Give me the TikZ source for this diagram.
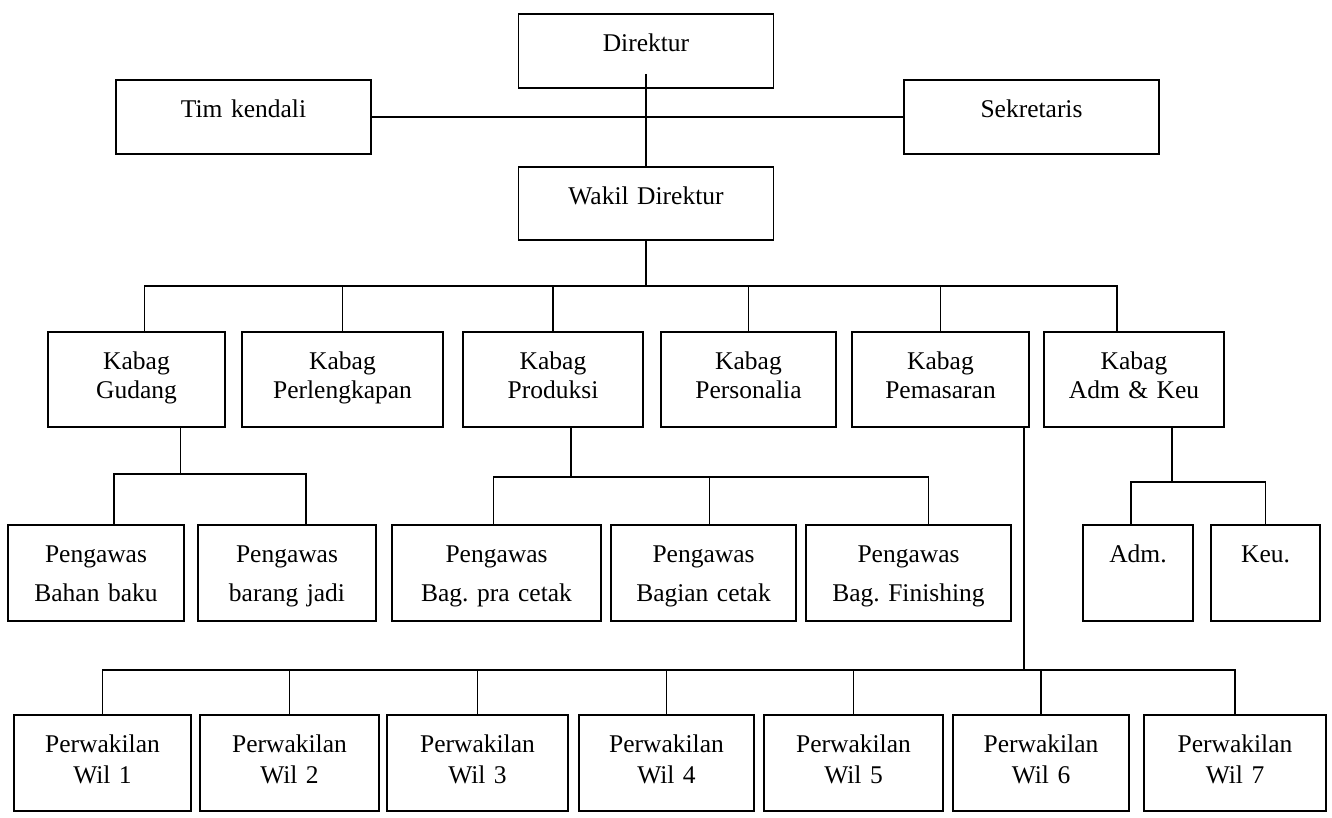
\documentclass[tikz,border=0pt]{standalone}
\usepackage{fontspec}
\setmainfont{Liberation Serif}
\usetikzlibrary{positioning}
\frenchspacing

\tikzset{
    kotak/.style={draw, line width=1.8pt, inner sep=0pt, align=center,
        anchor=north, text height=38pt},
    atas/.style={kotak, text depth=36pt, text width=255pt,
        font=\fontsize{25.5}{30}\selectfont},
    kabag/.style={kotak, text depth=57pt, font=\fontsize{25.5}{29}\selectfont},
    pengawas/.style={kotak, text depth=58pt, font=\fontsize{25.5}{39}\selectfont},
    wilayah/.style={kotak, text depth=58pt, font=\fontsize{25.5}{31}\selectfont},
    garis/.style={line width=1.5pt}
}

\begin{document}
\begin{tikzpicture}[x=1pt, y=-1pt]
\useasboundingbox (0,0) rectangle (1332,817);

% Pimpinan
\node[atas] (dir) at (646,13) {Direktur};
\node[atas] (tim) at (243.5,79) {Tim kendali};
\node[atas] (sek) at (1031.5,79) {Sekretaris};
\node[atas, text depth=35pt] (wakil) at (646,166) {Wakil Direktur};

\draw[garis] (tim.east) -- (sek.west);
\draw[garis] ([yshift=15pt]dir.south) -- (wakil.north);

% Kepala bagian
\node[kabag, text width=177pt] (gudang) at (136.5,331) {Kabag\\Gudang};
\node[kabag, text width=201pt] (perlengkapan) at (342.5,331) {Kabag\\Perlengkapan};
\node[kabag, text width=180pt] (produksi) at (553,331) {Kabag\\Produksi};
\node[kabag, text width=175pt] (personalia) at (748.5,331) {Kabag\\Personalia};
\node[kabag, text width=177pt] (pemasaran) at (940.5,331) {Kabag\\Pemasaran};
\node[kabag, text width=180pt] (admkeu) at (1134,331) {Kabag\\Adm \& Keu};

\coordinate (busA) at (0,286);
\draw[garis] (wakil.south) -- (wakil.south |- busA);
\draw[garis] ([xshift=8pt]gudang.north) |- ([xshift=-17pt]admkeu.north |- busA)
    -- ([xshift=-17pt]admkeu.north);
\foreach \n in {perlengkapan,produksi,personalia,pemasaran}
    \draw[garis] (\n.north) -- (\n.north |- busA);

% Pengawas
\node[pengawas, text width=176pt] (bahan) at (96,524) {Pengawas\\Bahan baku};
\node[pengawas, text width=178pt] (jadi) at (287,524) {Pengawas\\barang jadi};
\node[pengawas, text width=209pt] (pracetak) at (496.5,524) {Pengawas\\Bag. pra cetak};
\node[pengawas, text width=185pt] (cetak) at (703.5,524) {Pengawas\\Bagian cetak};
\node[pengawas, text width=205pt] (finishing) at (908.5,524) {Pengawas\\Bag. Finishing};
\node[pengawas, text width=110pt] (adm) at (1138,524) {Adm.};
\node[pengawas, text width=109pt] (keu) at (1265.5,524) {Keu.};

% Gudang
\coordinate (busB) at (0,474);
\draw[garis] ([xshift=44pt]gudang.south) -- ([xshift=44pt]gudang.south |- busB);
\draw[garis] ([xshift=18pt]bahan.north) |- ([xshift=19pt]jadi.north |- busB)
    -- ([xshift=19pt]jadi.north);

% Produksi
\coordinate (busC) at (0,477);
\draw[garis] ([xshift=18pt]produksi.south) -- ([xshift=18pt]produksi.south |- busC);
\draw[garis] ([xshift=-3pt]pracetak.north) |- ([xshift=20pt]finishing.north |- busC)
    -- ([xshift=20pt]finishing.north);
\draw[garis] ([xshift=6pt]cetak.north) -- ([xshift=6pt]cetak.north |- busC);

% Adm & Keu
\coordinate (busD) at (0,482);
\draw[garis] ([xshift=38pt]admkeu.south) -- ([xshift=38pt]admkeu.south |- busD);
\draw[garis] ([xshift=-7pt]adm.north) |- (keu.north |- busD) -- (keu.north);

% Perwakilan wilayah
\foreach \i/\x/\w in {1/102.5/177pt, 2/289.5/179pt, 3/477.5/181pt, 4/666.5/175pt,
    5/853.5/179pt, 6/1041/176pt, 7/1235/182pt}
    \node[wilayah, text width=\w] (w\i) at (\x,714) {Perwakilan\\Wil \i};

\coordinate (busE) at (0,670);
\draw[garis] ([xshift=-6pt]pemasaran.south east)
    -- ([xshift=-6pt]pemasaran.south east |- busE);
\draw[garis] (w1.north) |- (w7.north |- busE) -- (w7.north);
\foreach \i in {2,...,6}
    \draw[garis] (w\i.north) -- (w\i.north |- busE);

\end{tikzpicture}
\end{document}
